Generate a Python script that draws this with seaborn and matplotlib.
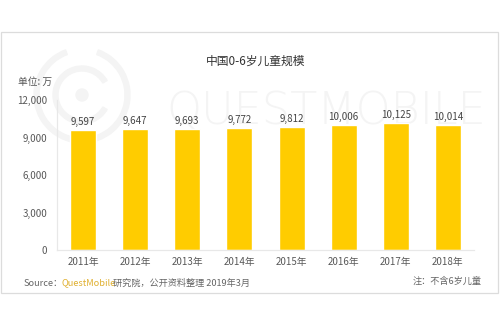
import matplotlib
matplotlib.use("Agg")
import matplotlib.pyplot as plt
import seaborn as sns
import pandas as pd
from matplotlib.patches import Rectangle, Circle, Wedge
from matplotlib.ticker import FuncFormatter

years = ["2011年", "2012年", "2013年", "2014年", "2015年", "2016年", "2017年", "2018年"]
children = [9597, 9647, 9693, 9772, 9812, 10006, 10125, 10014]
y_ticks = [0, 3000, 6000, 9000, 12000]

sns.set_theme(style="white")
plt.rcParams["font.family"] = ["Noto Sans CJK SC", "DejaVu Sans"]

df = pd.DataFrame({"year": years, "value": children})

W, H = 500, 325
fig = plt.figure(figsize=(W / 100, H / 100), dpi=100)
fig.patch.set_facecolor("white")

# framing box
fig.add_artist(Rectangle((0.002, 1 - 293 / H), 0.994, (293 - 32) / H,
                         transform=fig.transFigure, fill=False,
                         edgecolor="#dcdcdc", linewidth=0.9, zorder=-5))

# faint watermark: ring logo and brand word, kept behind the axes
wm = "#f4f4f4"
lx, ly = 82, H - 95
fig.add_artist(Circle((lx, ly), 6, transform=None, color=wm, zorder=-5))
for r, t1, t2 in [(29, 30, 330), (48, 110, 70)]:
    fig.add_artist(Wedge((lx, ly), r, t1, t2, width=5, transform=None,
                         color=wm, zorder=-5))
fig.text(166 / W, 1 - 124 / H, "QUESTMOBILE", fontsize=32, color=wm,
         fontweight="light", family=["DejaVu Sans"], ha="left",
         va="baseline", zorder=-5)

ax = fig.add_axes([57 / W, 1 - 250 / H, (474 - 57) / W, 150 / H])
ax.set_facecolor("none")
sns.barplot(data=df, x="year", y="value", color="#FFCC00", width=0.5,
            saturation=1, ax=ax)

ax.set_xlim(-0.5, len(years) - 0.5)
ax.set_ylim(0, 12000)
ax.set_yticks(y_ticks)
ax.yaxis.set_major_formatter(FuncFormatter(lambda v, p: f"{int(v):,}"))
ax.set_xlabel("")
ax.set_ylabel("")
ax.tick_params(axis="both", length=0, labelsize=7, colors="#595959")
ax.tick_params(axis="x", pad=5)
ax.tick_params(axis="y", pad=7)
for s in ["top", "right"]:
    ax.spines[s].set_visible(False)
for s in ["left", "bottom"]:
    ax.spines[s].set_color("#e8e8e8")
    ax.spines[s].set_linewidth(0.9)

for i, v in enumerate(children):
    ax.text(i, v + 250, f"{v:,}", ha="center", va="bottom", fontsize=7,
            color="#444444")

fig.text(256 / W, 1 - 61 / H, "中国0-6岁儿童规模", ha="center", va="center",
         fontsize=8.5, color="#333333")
fig.text(35 / W, 1 - 82 / H, "单位: 万", ha="center", va="center",
         fontsize=7, color="#555555")

src_y = 1 - 283 / H
t1 = fig.text(24 / W, src_y, "Source：", ha="left", va="center",
              fontsize=6.6, color="#666666")
fig.text(62 / W, src_y, "QuestMobile", ha="left", va="center",
         fontsize=6.6, color="#E0B030")
fig.text(113 / W, src_y, "研究院，公开资料整理 2019年3月", ha="left",
         va="center", fontsize=6.6, color="#666666")
fig.text(482 / W, 1 - 281 / H, "注：不含6岁儿童", ha="right", va="center",
         fontsize=6.6, color="#666666")

fig.savefig("out.png", dpi=100, facecolor="white")
